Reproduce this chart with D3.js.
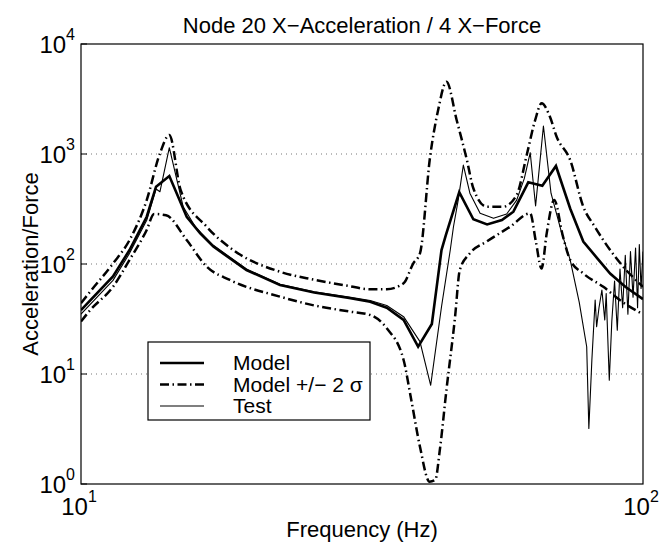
<!DOCTYPE html>
<html>
<head>
<meta charset="utf-8">
<script src="https://cdn.jsdelivr.net/npm/d3@7"></script>
<style>
  body { margin: 0; background: #fff; }
  svg { display: block; font-family: "Liberation Sans", Arial, Helvetica, sans-serif; }
</style>
</head>
<body>
<svg id="chart" width="660" height="545"></svg>
<script>
// Node 20 X-Acceleration / 4 X-Force FRF, log-log

const titleText = "Node 20 X\u2212Acceleration / 4 X\u2212Force";
const xLabel = "Frequency (Hz)";
const yLabel = "Acceleration/Force";
const xTickExps = [1, 2];
const yTickExps = [0, 1, 2, 3, 4];
const gridExps = [1, 2, 3];
const legendLabels = ["Model", "Model +/\u2212 2 \u03c3", "Test"];

// Model (thick solid)
const modelFreq = [10, 11.4, 12.2, 13.09, 13.6, 14.36, 15.42, 16.3, 17.2, 19.7, 22.6, 26, 30, 32.7, 35, 37.5, 39.8, 42.1, 43.8, 44.6, 47.1, 49.9, 52.8, 56.1, 58.8, 62.5, 66.2, 70.0, 74.2, 78.3, 83, 87.4, 93, 100];
const modelVal  = [38, 77, 134, 269, 504, 631, 269, 190, 144, 88, 64.4, 55, 49, 45.4, 40, 31, 17.7, 28.5, 134, 184, 449, 255, 229, 251, 299, 553, 515, 778, 320, 160, 112, 82, 62, 48];

// Model + 2 sigma (dash-dot, upper)
const upperFreq = [10, 10.38, 11.4, 12.2, 13.09, 13.82, 14.36, 15.04, 16.74, 18.66, 22.6, 26, 30, 32.7, 35, 37.5, 39, 40.1, 41.8, 43.2, 44.7, 46.6, 48.6, 49.9, 52.7, 56.4, 59.6, 62.1, 64.3, 66.0, 68.3, 70.2, 74.2, 78.3, 82, 87.4, 93, 100];
const upperVal  = [44, 56, 101, 165, 381, 1014, 1489, 471, 218, 134, 85, 72, 63, 58.9, 58.9, 66.8, 101, 125, 945, 2512, 4540, 2040, 882, 488, 332, 332, 424, 979, 2040, 2890, 2180, 1436, 882, 332, 220, 134, 90, 62];

// Model - 2 sigma (dash-dot, lower)
const lowerFreq = [10, 10.38, 11.4, 12.2, 13.09, 13.49, 14.17, 15.42, 16.74, 18.4, 22.6, 26, 30, 32.7, 35, 37.5, 38.7, 40.1, 41.7, 42.7, 43.5, 44.7, 46.3, 47.2, 49.2, 52.7, 58, 63, 64.4, 66, 67.4, 69.5, 72, 74.2, 78.3, 85, 92, 100];
const lowerVal  = [30, 38, 62, 109, 204, 285, 277, 165, 94.5, 71.6, 50.5, 42, 37, 34.4, 26, 13.4, 5.8, 2.18, 1.05, 1.09, 2.04, 7.2, 33, 88, 125, 160, 218, 289, 165, 91, 190, 382, 180, 109, 82, 62, 45, 35];

// Test (thin solid)
const testFreq = [10, 11.4, 12.2, 13.09, 13.6, 13.82, 14.36, 15.2, 16, 17.2, 19.7, 22.6, 26, 30, 32.7, 35, 37.5, 40.1, 41.9, 43.8, 45.4, 46, 46.9, 47.9, 49.2, 51.3, 54.2, 57.2, 59.6, 61.5, 63.0, 64.4, 66.5, 68.6, 71.5, 74.2, 77, 79.4, 80.1, 81.1, 82.2, 82.7, 83.5, 84.5, 85.5, 86.0, 87.1, 88, 89, 90, 91, 92, 93, 94, 95, 96, 97, 97.8, 98.5, 99.2, 100];
const testVal  = [35, 71, 125, 250, 480, 454, 1141, 331, 215, 148, 90, 65.5, 56, 50, 46.5, 42, 33.2, 19.7, 7.9, 40.9, 134, 218, 381, 794, 440, 289, 260, 285, 381, 600, 1028, 337, 1797, 440, 200, 109, 45, 17.7, 3.2, 13.4, 47, 26.9, 40, 58, 31, 54, 8.8, 30, 70, 25, 90, 40, 120, 35, 130, 50, 140, 40, 150, 60, 130];

// Layout
const width = 660, height = 545;
const margin = { top: 44, right: 17, bottom: 61, left: 81 };
const innerW = width - margin.left - margin.right;
const innerH = height - margin.top - margin.bottom;

const svg = d3.select("#chart");

const x = d3.scaleLog().domain([10, 100]).range([margin.left, margin.left + innerW]);
const y = d3.scaleLog().domain([1, 1e4]).range([margin.top + innerH, margin.top]);

// Grid (dotted horizontal at decades)
svg.append("g")
  .selectAll("line")
  .data(gridExps)
  .join("line")
    .attr("x1", margin.left)
    .attr("x2", margin.left + innerW)
    .attr("y1", d => y(Math.pow(10, d)))
    .attr("y2", d => y(Math.pow(10, d)))
    .attr("stroke", "#777")
    .attr("stroke-width", 1)
    .attr("stroke-dasharray", "1,4");

// Clip for curves
svg.append("clipPath").attr("id", "clip")
  .append("rect")
    .attr("x", margin.left).attr("y", margin.top)
    .attr("width", innerW).attr("height", innerH);

const plotG = svg.append("g").attr("clip-path", "url(#clip)");

function series(fs, vs) {
  return fs.map((f, i) => [f, vs[i]]);
}

const linearLine = d3.line().x(d => x(d[0])).y(d => y(d[1]));
const smoothLine = d3.line().x(d => x(d[0])).y(d => y(d[1])).curve(d3.curveMonotoneX);

const dashDot = "9,3.5,1.5,3.5";

plotG.append("path")
  .attr("d", smoothLine(series(upperFreq, upperVal)))
  .attr("fill", "none").attr("stroke", "#000").attr("stroke-width", 2.5)
  .attr("stroke-dasharray", dashDot);

plotG.append("path")
  .attr("d", smoothLine(series(lowerFreq, lowerVal)))
  .attr("fill", "none").attr("stroke", "#000").attr("stroke-width", 2.5)
  .attr("stroke-dasharray", dashDot);

plotG.append("path")
  .attr("d", linearLine(series(testFreq, testVal)))
  .attr("fill", "none").attr("stroke", "#000").attr("stroke-width", 1.1)
  .attr("stroke-linejoin", "round");

plotG.append("path")
  .attr("d", linearLine(series(modelFreq, modelVal)))
  .attr("fill", "none").attr("stroke", "#000").attr("stroke-width", 2.6)
  .attr("stroke-linejoin", "miter");

// Axes box
svg.append("rect")
  .attr("x", margin.left).attr("y", margin.top)
  .attr("width", innerW).attr("height", innerH)
  .attr("fill", "none").attr("stroke", "#000").attr("stroke-width", 1.2);

// Y ticks (inward)
svg.append("g")
  .selectAll("line")
  .data(yTickExps)
  .join("line")
    .attr("x1", margin.left).attr("x2", margin.left + 6)
    .attr("y1", d => y(Math.pow(10, d))).attr("y2", d => y(Math.pow(10, d)))
    .attr("stroke", "#000");

// Tick labels with superscript exponents
const yLab = svg.append("g")
  .selectAll("text")
  .data(yTickExps)
  .join("text")
    .attr("x", margin.left - 6)
    .attr("y", d => y(Math.pow(10, d)) + 9)
    .attr("text-anchor", "end")
    .attr("font-size", 24)
    .attr("fill", "#000");
yLab.append("tspan").text("10");
yLab.append("tspan").attr("dy", -13).attr("font-size", 16).text(d => d);

const xLab = svg.append("g")
  .selectAll("text")
  .data(xTickExps)
  .join("text")
    .attr("x", d => x(Math.pow(10, d)) - 2)
    .attr("y", margin.top + innerH + 31)
    .attr("text-anchor", "middle")
    .attr("font-size", 24)
    .attr("fill", "#000");
xLab.append("tspan").text("10");
xLab.append("tspan").attr("dy", -13).attr("font-size", 16).text(d => d);

// Title and axis labels
svg.append("text")
  .attr("x", margin.left + innerW / 2)
  .attr("y", 33)
  .attr("text-anchor", "middle")
  .attr("font-size", 22)
  .text(titleText);

svg.append("text")
  .attr("x", margin.left + innerW / 2)
  .attr("y", 537)
  .attr("text-anchor", "middle")
  .attr("font-size", 22)
  .text(xLabel);

svg.append("text")
  .attr("transform", `translate(38, ${margin.top + innerH / 2}) rotate(-90)`)
  .attr("text-anchor", "middle")
  .attr("font-size", 22)
  .text(yLabel);

// Legend
const legX = 148, legY = 342, legW = 222, legH = 78;
const legG = svg.append("g");
legG.append("rect")
  .attr("x", legX).attr("y", legY)
  .attr("width", legW).attr("height", legH)
  .attr("fill", "#fff").attr("stroke", "#000").attr("stroke-width", 1.2);

const legStyles = [
  { w: 2.6, dash: null },
  { w: 2.5, dash: dashDot },
  { w: 1.1, dash: null }
];

legendLabels.forEach((lab, i) => {
  const ly = legY + 21 + i * 21.5;
  legG.append("line")
    .attr("x1", legX + 12).attr("x2", legX + 56)
    .attr("y1", ly).attr("y2", ly)
    .attr("stroke", "#000")
    .attr("stroke-width", legStyles[i].w)
    .attr("stroke-dasharray", legStyles[i].dash);
  legG.append("text")
    .attr("x", legX + 85)
    .attr("y", ly + 7)
    .attr("font-size", 21)
    .text(lab);
});
</script>
</body>
</html>
